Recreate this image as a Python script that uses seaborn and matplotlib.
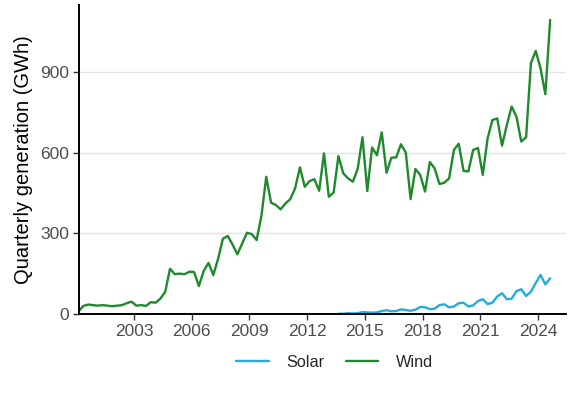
import numpy as np
import pandas as pd
import seaborn as sns
import matplotlib.pyplot as plt

# quarterly generation, GWh, starting 2000 Q1 (mid-quarter positions)
wind = [10, 30, 35, 33, 31, 33, 31, 29, 31, 33, 40, 46, 31, 33, 30, 44,
        42, 57, 82, 168, 148, 150, 148, 157, 156, 104, 160, 190, 145, 205,
        280, 290, 258, 222, 262, 302, 297, 275, 365, 510, 414, 405, 389,
        411, 427, 467, 545, 473, 494, 501, 458, 597, 436, 451, 587, 523,
        504, 492, 539, 657, 457, 619, 590, 675, 525, 581, 582, 631, 600,
        427, 539, 517, 455, 565, 541, 483, 488, 504, 610, 633, 532, 530,
        610, 617, 517, 653, 721, 727, 626, 703, 771, 733, 641, 657, 932,
        978, 913, 817, 1093]
solar_start = 54  # 2013 Q3
solar = [1, 1, 3, 2, 3, 7, 6, 5, 6, 11, 14, 10, 11, 17, 15, 12, 16, 26,
         25, 18, 20, 33, 36, 25, 28, 40, 42, 28, 32, 48, 55, 37, 42, 65,
         77, 55, 57, 85, 92, 67, 83, 115, 145, 110, 133]

quarters = 2000.125 + 0.25 * np.arange(len(wind))
df = pd.concat([
    pd.DataFrame({"date": quarters[solar_start:], "gwh": solar, "source": "Solar"}),
    pd.DataFrame({"date": quarters, "gwh": wind, "source": "Wind"}),
])

sns.set_style("white")
plt.rcParams['font.family'] = ['Liberation Sans', 'DejaVu Sans']

fig = plt.figure(figsize=(5.77, 4.07), dpi=100)
ax = fig.add_axes([0.137, 0.2285, 0.844, 0.7595])

ax.yaxis.grid(True, color="#E3E3E3", linewidth=1)
ax.set_axisbelow(True)

sns.lineplot(data=df, x="date", y="gwh", hue="source", ax=ax,
             palette={"Solar": "#22AEDC", "Wind": "#1E8A2C"},
             linewidth=1.7, legend=False)

ax.set_xlim(2000.15, 2025.45)
ax.set_ylim(0, 1149)
ax.set_xticks(range(2003, 2025, 3))
ax.set_yticks([0, 300, 600, 900])
ax.tick_params(axis="both", labelsize=12.5, labelcolor="#4D4D4D", color="#333333",
               length=4, width=1, direction="out", bottom=True, left=True, pad=3)
for s in ["top", "right"]:
    ax.spines[s].set_visible(False)
for s in ["left", "bottom"]:
    ax.spines[s].set_color("black")
    ax.spines[s].set_linewidth(1.4)

ax.set_xlabel("")
ax.set_ylabel("Quarterly generation (GWh)", fontsize=14.5, color="black", labelpad=5)

handles = [plt.Line2D([], [], color="#22AEDC", lw=1.7),
           plt.Line2D([], [], color="#1E8A2C", lw=1.7)]
fig.legend(handles, ["Solar", "Wind"], loc="center", bbox_to_anchor=(0.58, 0.11),
           ncol=2, frameon=False, fontsize=11.7, handlelength=2.0, handletextpad=1.1,
           columnspacing=1.3)

fig.savefig("out.png", dpi=100)
